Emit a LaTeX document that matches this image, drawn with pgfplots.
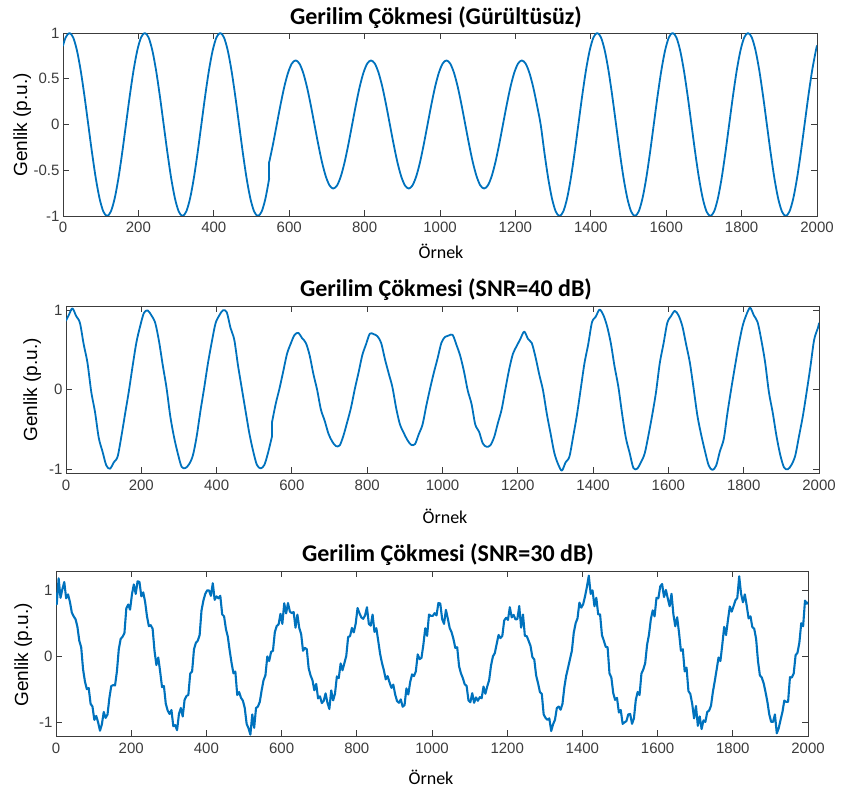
\documentclass[border=0pt]{standalone}
\usepackage{fontspec}
\setmainfont{Liberation Sans}
\newfontfamily\titlefont{Carlito}
\usepackage{pgfplots}
\pgfplotsset{compat=1.18}
\definecolor{mblue}{RGB}{0,114,189}
\definecolor{axgray}{RGB}{60,60,60}
\pgfplotsset{
 panel/.style={
  scale only axis,
  anchor=south west,
  xmin=0, xmax=2000,
  xtick={0,200,...,2000},
  tick align=inside,
  major tick length=6pt,
  axis line style={axgray, line width=0.9pt},
  every tick/.style={axgray, line width=0.9pt},
  tick label style={font=\fontsize{15}{15}\selectfont, text=axgray},
  xticklabel style={yshift=-3pt},
  /pgf/number format/assume math mode=true,
  /pgf/number format/1000 sep={},
 },
 sig/.style={mblue, line width=1.8pt, line join=round, line cap=round, mark=none},
}
\begin{document}
\begin{tikzpicture}[x=1pt,y=1pt]
\path[use as bounding box] (0,0) rectangle (842,791);
% ---------------- Panel 1 ----------------
\begin{axis}[panel, at={(63pt,575pt)}, width=754pt, height=183pt,
  ymin=-1, ymax=1, ytick={-1,-0.5,0,0.5,1}]
\addplot[sig, smooth] coordinates {
(0,0.861)
(7,0.951)(17,1)(27,0.951)(37,0.809)(47,0.588)(57,0.309)(67,0)(77,-0.309)(87,-0.588)(97,-0.809)(107,-0.951)(117,-1)(127,-0.951)(137,-0.809)(147,-0.588)(157,-0.309)(167,0)(177,0.309)(187,0.588)(197,0.809)
(207,0.951)(217,1)(227,0.951)(237,0.809)(247,0.588)(257,0.309)(267,0)(277,-0.309)(287,-0.588)(297,-0.809)(307,-0.951)(317,-1)(327,-0.951)(337,-0.809)(347,-0.588)(357,-0.309)(367,0)(377,0.309)(387,0.588)(397,0.809)
(407,0.951)(417,1)(427,0.951)(437,0.809)(447,0.588)(457,0.309)(467,0)(477,-0.309)(487,-0.588)(497,-0.809)(507,-0.951)(517,-1)(527,-0.951)(537,-0.809)(547,-0.588)
};
\addplot[sig] coordinates {(547,-0.588)(547,-0.412)};
\addplot[sig, smooth] coordinates {
(547,-0.412)(557,-0.216)(567,0)(577,0.216)(587,0.412)(597,0.566)
(607,0.666)(617,0.7)(627,0.666)(637,0.566)(647,0.412)(657,0.216)(667,0)(677,-0.216)(687,-0.412)(697,-0.566)(707,-0.666)(717,-0.7)(727,-0.666)(737,-0.566)(747,-0.412)(757,-0.216)(767,0)(777,0.216)(787,0.412)(797,0.566)
(807,0.666)(817,0.7)(827,0.666)(837,0.566)(847,0.412)(857,0.216)(867,0)(877,-0.216)(887,-0.412)(897,-0.566)(907,-0.666)(917,-0.7)(927,-0.666)(937,-0.566)(947,-0.412)(957,-0.216)(967,0)(977,0.216)(987,0.412)(997,0.566)
(1007,0.666)(1017,0.7)(1027,0.666)(1037,0.566)(1047,0.412)(1057,0.216)(1067,0)(1077,-0.216)(1087,-0.412)(1097,-0.566)(1107,-0.666)(1117,-0.7)(1127,-0.666)(1137,-0.566)(1147,-0.412)(1157,-0.216)(1167,0)(1177,0.216)(1187,0.412)(1197,0.566)
(1207,0.666)(1217,0.7)(1227,0.666)(1237,0.566)(1247,0.412)(1257,0.216)
(1267,0)(1277,-0.309)(1287,-0.588)(1297,-0.809)(1307,-0.951)(1317,-1)(1327,-0.951)(1337,-0.809)(1347,-0.588)(1357,-0.309)(1367,0)(1377,0.309)(1387,0.588)(1397,0.809)
(1407,0.951)(1417,1)(1427,0.951)(1437,0.809)(1447,0.588)(1457,0.309)(1467,0)(1477,-0.309)(1487,-0.588)(1497,-0.809)(1507,-0.951)(1517,-1)(1527,-0.951)(1537,-0.809)(1547,-0.588)(1557,-0.309)(1567,0)(1577,0.309)(1587,0.588)(1597,0.809)
(1607,0.951)(1617,1)(1627,0.951)(1637,0.809)(1647,0.588)(1657,0.309)(1667,0)(1677,-0.309)(1687,-0.588)(1697,-0.809)(1707,-0.951)(1717,-1)(1727,-0.951)(1737,-0.809)(1747,-0.588)(1757,-0.309)(1767,0)(1777,0.309)(1787,0.588)(1797,0.809)
(1807,0.951)(1817,1)(1827,0.951)(1837,0.809)(1847,0.588)(1857,0.309)(1867,0)(1877,-0.309)(1887,-0.588)(1897,-0.809)(1907,-0.951)(1917,-1)(1927,-0.951)(1937,-0.809)(1947,-0.588)(1957,-0.309)(1967,0)(1977,0.309)(1987,0.588)(1997,0.809)
(2000,0.861)
};
\end{axis}
% ---------------- Panel 2 ----------------
\begin{axis}[panel, at={(66pt,318pt)}, width=753pt, height=167pt,
  ymin=-1.05, ymax=1.05, ytick={-1,0,1}]
\addplot[sig, smooth] coordinates {
(0,0.865)
(7,0.931)(17,1.020)(27,0.923)(37,0.837)(47,0.568)(57,0.337)(67,-0.028)(77,-0.281)(87,-0.608)(97,-0.781)(107,-0.955)(117,-0.996)(127,-0.915)(137,-0.845)(147,-0.592)(157,-0.305)(167,-0.020)(177,0.297)(187,0.592)(197,0.797)
(207,0.963)(217,0.994)(227,0.931)(237,0.837)(247,0.608)(257,0.305)(267,0.020)(277,-0.337)(287,-0.600)(297,-0.805)(307,-0.971)(317,-0.988)(327,-0.939)(337,-0.829)(347,-0.592)(357,-0.273)(367,0.020)(377,0.329)(387,0.592)(397,0.829)
(407,0.931)(417,0.996)(427,0.971)(437,0.773)(447,0.624)(457,0.297)(467,0.012)(477,-0.273)(487,-0.552)(497,-0.773)(507,-0.947)(517,-0.992)(527,-0.947)(537,-0.789)(547,-0.592)
};
\addplot[sig] coordinates {(547,-0.592)(547,-0.416)};
\addplot[sig, smooth] coordinates {
(547,-0.416)(557,-0.180)(567,0.012)(577,0.228)(587,0.448)(597,0.578)
(607,0.686)(617,0.712)(627,0.646)(637,0.586)(647,0.432)(657,0.196)(667,-0.004)(677,-0.252)(687,-0.392)(697,-0.554)(707,-0.654)(717,-0.712)(727,-0.702)(737,-0.578)(747,-0.408)(757,-0.228)(767,0.004)(777,0.212)(787,0.432)(797,0.570)
(807,0.702)(817,0.696)(827,0.670)(837,0.586)(847,0.384)(857,0.204)(867,0.028)(877,-0.236)(887,-0.440)(897,-0.546)(907,-0.638)(917,-0.696)(927,-0.686)(937,-0.562)(947,-0.440)(957,-0.204)(967,0.012)(977,0.212)(987,0.392)(997,0.586)
(1007,0.662)(1017,0.680)(1027,0.686)(1037,0.562)(1047,0.424)(1057,0.228)(1067,-0.012)(1077,-0.180)(1087,-0.440)(1097,-0.530)(1107,-0.678)(1117,-0.720)(1127,-0.702)(1137,-0.602)(1147,-0.424)(1157,-0.252)(1167,0.004)(1177,0.252)(1187,0.448)(1197,0.546)
(1207,0.638)(1217,0.728)(1227,0.638)(1237,0.586)(1247,0.408)(1257,0.188)
(1267,-0.012)(1277,-0.305)(1287,-0.552)(1297,-0.797)(1307,-0.939)(1317,-1.020)(1327,-0.915)(1337,-0.845)(1347,-0.592)(1357,-0.321)(1367,0.004)(1377,0.329)(1387,0.568)(1397,0.845)
(1407,0.915)(1417,1.004)(1427,0.939)(1437,0.797)(1447,0.584)(1457,0.289)(1467,0.036)(1477,-0.305)(1487,-0.608)(1497,-0.797)(1507,-0.987)(1517,-0.996)(1527,-0.915)(1537,-0.805)(1547,-0.576)(1557,-0.321)(1567,-0.036)(1577,0.329)(1587,0.576)(1597,0.837)
(1607,0.923)(1617,0.988)(1627,0.931)(1637,0.797)(1647,0.568)(1657,0.337)(1667,0.012)(1677,-0.329)(1687,-0.568)(1697,-0.773)(1707,-0.955)(1717,-1.012)(1727,-0.955)(1737,-0.773)(1747,-0.624)(1757,-0.289)(1767,0.012)(1777,0.297)(1787,0.568)(1797,0.797)
(1807,0.939)(1817,1.028)(1827,0.931)(1837,0.845)(1847,0.616)(1857,0.337)(1867,-0.036)(1877,-0.289)(1887,-0.584)(1897,-0.821)(1907,-0.979)(1917,-1.004)(1927,-0.947)(1937,-0.829)(1947,-0.584)(1957,-0.337)(1967,-0.036)(1977,0.281)(1987,0.624)(1997,0.773)
(2000,0.833)
};
\end{axis}
% ---------------- Panel 3 ----------------
\begin{axis}[panel, at={(56pt,55pt)}, width=752pt, height=165pt,
  ymin=-1.21, ymax=1.29, ytick={-1,0,1}]
\addplot[sig, line width=2.1pt] coordinates {
(0,0.950)
(2,0.786)(7,1.180)(12,0.883)(17,1.015)(22,1.123)(27,0.876)(32,0.936)(37,0.824)(42,0.662)(47,0.603)(52,0.559)(57,0.444)(62,0.231)(67,0.135)(72,-0.201)(77,-0.384)(82,-0.499)(87,-0.483)(92,-0.722)(97,-0.764)
(102,-0.966)(107,-0.906)(112,-1.003)(117,-1.130)(122,-1.033)(127,-0.846)(132,-0.936)(137,-0.884)(142,-0.632)(147,-0.453)(152,-0.439)(157,-0.444)(162,-0.231)(167,0.105)(172,0.261)(177,0.294)(182,0.349)(187,0.723)(192,0.782)(197,0.704)
(202,0.936)(207,1.086)(212,0.943)(217,1.135)(222,1.123)(227,0.906)(232,0.966)(237,0.824)(242,0.602)(247,0.453)(252,0.469)(257,0.414)(262,0.081)(267,-0.135)(272,-0.021)(277,-0.234)(282,-0.469)(287,-0.453)(292,-0.722)(297,-0.824)
(302,-0.876)(307,-0.816)(312,-1.063)(317,-1.045)(322,-1.123)(327,-0.876)(332,-0.786)(337,-0.914)(342,-0.662)(347,-0.603)(352,-0.589)(357,-0.264)(362,-0.231)(367,0.105)(372,0.201)(377,0.234)(382,0.319)(387,0.693)(392,0.842)(397,0.944)
(402,0.996)(407,0.996)(412,0.913)(417,1.105)(422,0.853)(427,0.906)(432,0.876)(437,0.914)(442,0.632)(447,0.603)(452,0.409)(457,0.294)(462,0.081)(467,-0.105)(472,-0.261)(477,-0.234)(482,-0.589)(487,-0.543)(492,-0.632)(497,-0.674)
(502,-0.786)(507,-1.026)(512,-1.093)(517,-1.190)(522,-0.883)(527,-1.086)(532,-0.786)(537,-0.764)(542,-0.692)(547,-0.517)(552,-0.363)(557,-0.291)(562,-0.004)(567,-0.075)(572,0.064)(577,0.081)(582,0.363)(587,0.457)(592,0.480)(597,0.641)
(602,0.489)(607,0.801)(612,0.647)(617,0.805)(622,0.677)(627,0.651)(632,0.669)(637,0.431)(642,0.630)(647,0.427)(652,0.333)(657,0.081)(662,0.124)(667,0.105)(672,-0.184)(677,-0.291)(682,-0.363)(687,-0.517)(692,-0.420)(697,-0.641)
(702,-0.609)(707,-0.711)(712,-0.677)(717,-0.565)(722,-0.707)(727,-0.801)(732,-0.519)(737,-0.671)(742,-0.570)(747,-0.307)(752,-0.333)(757,-0.111)(762,-0.214)(767,-0.105)(772,0.004)(777,0.291)(782,0.303)(787,0.427)(792,0.360)(797,0.491)
(802,0.729)(807,0.651)(812,0.587)(817,0.565)(822,0.617)(827,0.741)(832,0.489)(837,0.461)(842,0.630)(847,0.367)(852,0.423)(857,0.231)(862,0.034)(867,-0.105)(872,-0.214)(877,-0.351)(882,-0.303)(887,-0.397)(892,-0.480)(897,-0.431)
(902,-0.579)(907,-0.681)(912,-0.707)(917,-0.655)(922,-0.767)(927,-0.741)(932,-0.489)(937,-0.581)(942,-0.390)(947,-0.277)(952,-0.303)(957,-0.231)(962,0.026)(967,-0.045)(972,-0.026)(977,0.171)(982,0.423)(987,0.307)(992,0.630)(997,0.611)
(1002,0.609)(1007,0.651)(1012,0.617)(1017,0.805)(1022,0.797)(1027,0.561)(1032,0.489)(1037,0.701)(1042,0.570)(1047,0.427)(1052,0.363)(1057,0.261)(1062,0.124)(1067,0.135)(1072,-0.154)(1077,-0.261)(1082,-0.333)(1087,-0.427)(1092,-0.450)(1097,-0.671)
(1102,-0.699)(1107,-0.561)(1112,-0.707)(1117,-0.625)(1122,-0.677)(1127,-0.621)(1132,-0.639)(1137,-0.461)(1142,-0.570)(1147,-0.457)(1152,-0.363)(1157,-0.141)(1162,-0.004)(1167,0.045)(1172,0.184)(1177,0.321)(1182,0.273)(1187,0.307)(1192,0.540)(1197,0.581)
(1202,0.549)(1207,0.741)(1212,0.587)(1217,0.625)(1222,0.557)(1227,0.561)(1232,0.759)(1237,0.431)(1242,0.630)(1247,0.307)(1252,0.303)(1257,0.231)(1262,0.154)(1267,-0.015)(1272,-0.051)(1277,-0.294)(1282,-0.409)(1287,-0.543)(1292,-0.572)(1297,-0.884)
(1302,-0.936)(1307,-0.966)(1312,-0.943)(1317,-1.135)(1322,-1.033)(1327,-0.966)(1332,-0.786)(1337,-0.764)(1342,-0.812)(1347,-0.723)(1352,-0.469)(1357,-0.294)(1362,-0.171)(1367,-0.045)(1372,0.081)(1377,0.354)(1382,0.499)(1387,0.573)(1392,0.812)(1397,0.734)
(1402,0.786)(1407,0.906)(1412,1.050)(1417,1.220)(1422,0.943)(1427,0.996)(1432,0.756)(1437,0.884)(1442,0.632)(1447,0.633)(1452,0.319)(1457,0.234)(1462,0.141)(1467,0.135)(1472,-0.261)(1477,-0.324)(1482,-0.559)(1487,-0.663)(1492,-0.632)(1497,-0.854)
(1502,-0.816)(1507,-1.026)(1512,-1.003)(1517,-0.985)(1522,-0.883)(1527,-0.876)(1532,-1.026)(1537,-0.944)(1542,-0.662)(1547,-0.543)(1552,-0.589)(1557,-0.264)(1562,-0.201)(1567,-0.105)(1572,0.171)(1577,0.324)(1582,0.559)(1587,0.693)(1592,0.602)(1597,0.884)
(1602,0.876)(1607,1.056)(1612,1.093)(1617,0.895)(1622,1.003)(1627,0.876)(1632,0.756)(1637,0.944)(1642,0.632)(1647,0.453)(1652,0.589)(1657,0.354)(1662,0.081)(1667,0.105)(1672,-0.231)(1677,-0.174)(1682,-0.529)(1687,-0.573)(1692,-0.722)(1697,-0.944)
(1702,-0.756)(1707,-1.056)(1712,-0.913)(1717,-1.105)(1722,-0.973)(1727,-0.996)(1732,-0.846)(1737,-0.824)(1742,-0.752)(1747,-0.543)(1752,-0.379)(1757,-0.204)(1762,-0.021)(1767,-0.075)(1772,0.171)(1777,0.444)(1782,0.319)(1787,0.543)(1792,0.752)(1797,0.674)
(1802,0.756)(1807,0.846)(1812,0.883)(1817,1.210)(1822,0.943)(1827,0.816)(1832,0.936)(1837,0.764)(1842,0.572)(1847,0.603)(1852,0.439)(1857,0.414)(1862,0.261)(1867,-0.075)(1872,-0.291)(1877,-0.324)(1882,-0.409)(1887,-0.543)(1892,-0.692)(1897,-0.884)
(1902,-0.996)(1907,-0.996)(1912,-0.883)(1917,-1.170)(1922,-1.093)(1927,-0.966)(1932,-0.846)(1937,-0.674)(1942,-0.692)(1947,-0.693)(1952,-0.319)(1957,-0.324)(1962,-0.261)(1967,0.015)(1972,0.051)(1977,0.204)(1982,0.499)(1987,0.453)(1992,0.842)(1997,0.794)
(2000,0.816)
};
\end{axis}
% ---------------- Titles and labels ----------------
\node[anchor=base, font=\titlefont\bfseries\fontsize{24}{24}\selectfont] at (436,766) {Gerilim Çökmesi (Gürültüsüz)};
\node[anchor=base, font=\titlefont\bfseries\fontsize{24}{24}\selectfont] at (446,494) {Gerilim Çökmesi (SNR=40 dB)};
\node[anchor=base, font=\titlefont\bfseries\fontsize{24}{24}\selectfont] at (448,229) {Gerilim Çökmesi (SNR=30 dB)};
\node[anchor=base, font=\titlefont\fontsize{18}{18}\selectfont] at (441,532) {Örnek};
\node[anchor=base, font=\titlefont\fontsize{18}{18}\selectfont] at (445,267) {Örnek};
\node[anchor=base, font=\titlefont\fontsize{18}{18}\selectfont] at (431,6) {Örnek};
\node[anchor=base, rotate=90, font=\fontsize{19}{19}\selectfont] at (27,666) {Genlik (p.u.)};
\node[anchor=base, rotate=90, font=\fontsize{19}{19}\selectfont] at (37,401) {Genlik (p.u.)};
\node[anchor=base, rotate=90, font=\fontsize{19}{19}\selectfont] at (28,136) {Genlik (p.u.)};
\end{tikzpicture}
\end{document}
